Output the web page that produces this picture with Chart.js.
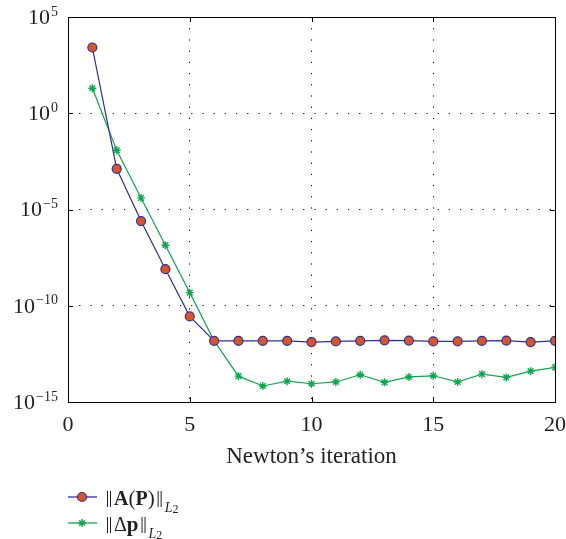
<!DOCTYPE html>
<html>
<head>
<meta charset="utf-8">
<script src="https://cdn.jsdelivr.net/npm/chart.js@4.4.0/dist/chart.umd.min.js"></script>
<style>
  html, body { margin: 0; padding: 0; background: #fff; }
</style>
</head>
<body>
<canvas id="newtonChart" width="566" height="539"></canvas>
<script>
// values (log scale)
const iterations = [1, 2, 3, 4, 5, 6, 7, 8, 9, 10, 11, 12, 13, 14, 15, 16, 17, 18, 19, 20];
const residualNorm = [2.6e3, 1.3e-3, 2.5e-6, 7.9e-9, 2.8e-11, 1.5e-12, 1.5e-12, 1.5e-12, 1.5e-12, 1.3e-12,
  1.4e-12, 1.5e-12, 1.6e-12, 1.55e-12, 1.4e-12, 1.4e-12, 1.5e-12, 1.55e-12, 1.3e-12, 1.5e-12];
const stepNorm = [20, 1.2e-2, 4e-5, 1.4e-7, 4.8e-10, 1.5e-12, 2.2e-14, 6.8e-15, 1.2e-14, 8.9e-15,
  1.1e-14, 2.6e-14, 1.05e-14, 2e-14, 2.3e-14, 1.1e-14, 2.8e-14, 1.9e-14, 4e-14, 6.3e-14];
const xTickValues = [0, 5, 10, 15, 20];
const yTickValues = [1e-15, 1e-10, 1e-5, 1e0, 1e5];
const yTickExponents = ['\u221215', '\u221210', '\u22125', '0', '5'];

const blue = '#2e3192';
const orange = '#d9542b';
const green = '#12a550';
const textColor = '#231f20';
const serif = '"Liberation Serif", "DejaVu Serif", serif';

// draws a string made of pieces with their own font and vertical offset,
// a piece marked norm draws the double bar of a norm
const drawPieces = (ctx, pieces, x, y) => {
  ctx.textBaseline = 'alphabetic';
  ctx.textAlign = 'left';
  pieces.forEach(p => {
    if (p.norm) {
      ctx.strokeStyle = textColor;
      ctx.lineWidth = 1;
      ctx.beginPath();
      ctx.moveTo(x + 2.5, y - 14); ctx.lineTo(x + 2.5, y + 2);
      ctx.moveTo(x + 5.5, y - 14); ctx.lineTo(x + 5.5, y + 2);
      ctx.stroke();
      x += 9;
      return;
    }
    ctx.font = p.font;
    ctx.fillText(p.text, x, y + (p.dy || 0));
    x += ctx.measureText(p.text).width + (p.gap || 0);
  });
};

const norm = { norm: true };

const matlabFrame = {
  id: 'matlabFrame',
  beforeDatasetsDraw(chart) {
    const { ctx, chartArea: a, scales: { x, y } } = chart;
    ctx.save();
    ctx.strokeStyle = '#000';
    ctx.lineWidth = 1;
    ctx.strokeRect(a.left + 0.5, a.top + 0.5, a.right - a.left, a.bottom - a.top);
    ctx.beginPath();
    xTickValues.forEach(v => {
      const px = Math.round(x.getPixelForValue(v)) + 0.5;
      ctx.moveTo(px, a.bottom); ctx.lineTo(px, a.bottom - 5);
      ctx.moveTo(px, a.top); ctx.lineTo(px, a.top + 5);
    });
    yTickValues.forEach(v => {
      const py = Math.round(y.getPixelForValue(v)) + 0.5;
      ctx.moveTo(a.left, py); ctx.lineTo(a.left + 5, py);
      ctx.moveTo(a.right, py); ctx.lineTo(a.right - 5, py);
    });
    ctx.stroke();
    ctx.restore();
  },
  afterDraw(chart) {
    const { ctx, scales: { y } } = chart;
    ctx.save();
    ctx.fillStyle = textColor;
    // y tick labels with superscript exponents
    yTickValues.forEach((v, i) => {
      const py = y.getPixelForValue(v);
      ctx.textBaseline = 'middle';
      ctx.textAlign = 'right';
      ctx.font = '14px ' + serif;
      const expW = ctx.measureText(yTickExponents[i]).width;
      ctx.fillText(yTickExponents[i], 58, py - 5);
      ctx.font = '22px ' + serif;
      ctx.fillText('10', 58 - expW - 1, py + 1);
    });

    // legend
    const rows = [
      { y: 497, color: blue, marker: 'circle',
        pieces: [
          norm,
          { text: 'A', font: 'bold 20px ' + serif },
          { text: '(', font: '21px ' + serif },
          { text: 'P', font: 'bold 20px ' + serif },
          { text: ')', font: '21px ' + serif, gap: 1 },
          norm,
          { text: 'L', font: 'italic 14px ' + serif, dy: 7 },
          { text: '2', font: '12px ' + serif, dy: 8 }
        ] },
      { y: 523, color: green, marker: 'star',
        pieces: [
          norm,
          { text: '\u0394', font: '20px ' + serif },
          { text: 'p', font: 'bold 21px ' + serif, gap: 1 },
          norm,
          { text: 'L', font: 'italic 14px ' + serif, dy: 7 },
          { text: '2', font: '12px ' + serif, dy: 8 }
        ] }
    ];
    rows.forEach(r => {
      ctx.strokeStyle = r.color;
      ctx.lineWidth = 1.3;
      ctx.beginPath();
      ctx.moveTo(68, r.y); ctx.lineTo(97, r.y);
      ctx.stroke();
      if (r.marker === 'circle') {
        ctx.fillStyle = orange;
        ctx.lineWidth = 1.2;
        ctx.beginPath();
        ctx.arc(82, r.y, 4.5, 0, Math.PI * 2);
        ctx.fill();
        ctx.stroke();
      } else {
        ctx.lineWidth = 1.4;
        Chart.helpers.drawPoint(ctx, { pointStyle: 'star', radius: 4, borderWidth: 1.4 }, 82, r.y);
      }
      ctx.fillStyle = textColor;
      drawPieces(ctx, r.pieces, 105, r.y + 8);
    });
    ctx.restore();
  }
};

const chart = new Chart(document.getElementById('newtonChart'), {
  type: 'line',
  data: {
    datasets: [
      {
        label: '||A(P)||',
        data: iterations.map((it, i) => ({ x: it, y: residualNorm[i] })),
        borderColor: blue,
        borderWidth: 1.2,
        pointStyle: 'circle',
        pointRadius: 4.5,
        pointBackgroundColor: orange,
        pointBorderColor: blue,
        pointBorderWidth: 1.2,
        tension: 0
      },
      {
        label: '||dp||',
        data: iterations.map((it, i) => ({ x: it, y: stepNorm[i] })),
        borderColor: green,
        borderWidth: 1.2,
        pointStyle: 'star',
        pointRadius: 4,
        pointBorderColor: green,
        pointBorderWidth: 1.4,
        tension: 0
      }
    ]
  },
  options: {
    responsive: false,
    animation: false,
    layout: { padding: { top: 17, right: 11, bottom: 68, left: 0 } },
    plugins: { legend: { display: false }, tooltip: { enabled: false } },
    scales: {
      x: {
        type: 'linear',
        min: 0,
        max: 20,
        afterBuildTicks: scale => { scale.ticks = xTickValues.map(v => ({ value: v })); },
        afterFit: scale => {
          scale.height = 69;
          scale.paddingLeft = 0;
          scale.paddingRight = 0;
        },
        ticks: { color: textColor, font: { family: serif, size: 22 }, padding: 10, maxRotation: 0 },
        grid: {
          drawTicks: false,
          lineWidth: 1,
          color: ctx => (ctx.tick && ctx.tick.value > 0 && ctx.tick.value < 20) ? '#000' : 'rgba(0,0,0,0)'
        },
        border: { display: false, dash: [1.2, 10] },
        title: {
          display: true,
          text: 'Newton\u2019s iteration',
          color: textColor,
          font: { family: serif, size: 23 },
          padding: { top: 2, bottom: 0 }
        }
      },
      y: {
        type: 'logarithmic',
        min: 1e-15,
        max: 1e5,
        afterBuildTicks: scale => { scale.ticks = yTickValues.map(v => ({ value: v })); },
        afterFit: scale => { scale.width = 68; },
        ticks: { display: false },
        grid: {
          drawTicks: false,
          lineWidth: 1,
          color: ctx => (ctx.tick && ctx.tick.value > 1e-15 && ctx.tick.value < 1e5) ? '#000' : 'rgba(0,0,0,0)'
        },
        border: { display: false, dash: [1.2, 10] }
      }
    }
  },
  plugins: [matlabFrame]
});
</script>
</body>
</html>
